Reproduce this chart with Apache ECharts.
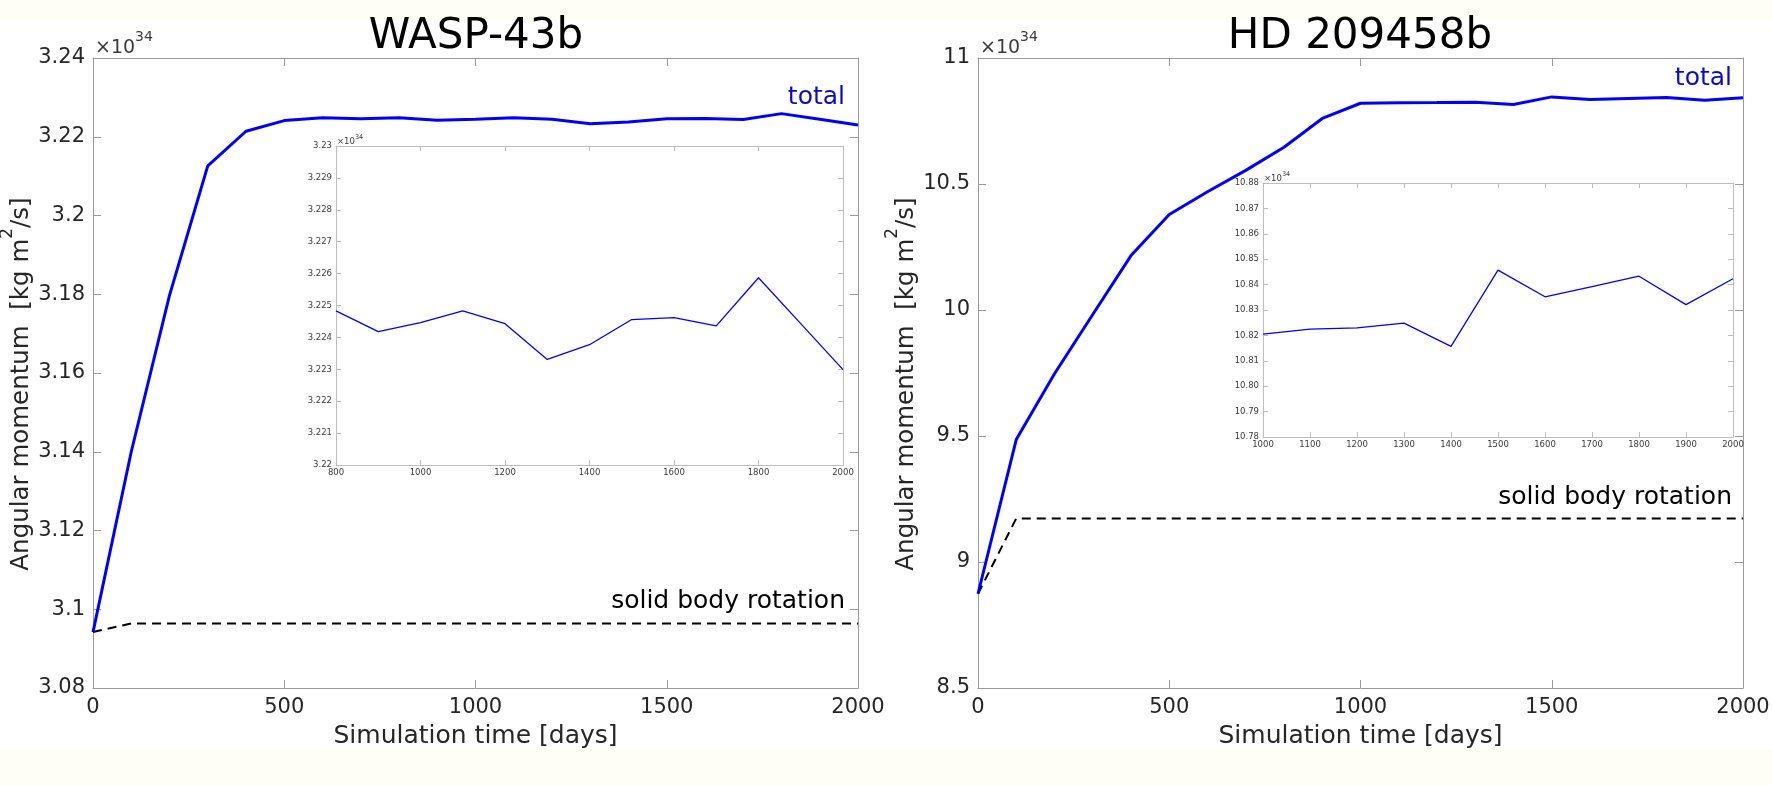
<!DOCTYPE html>
<html>
<head>
<meta charset="UTF-8">
<title>Angular momentum: WASP-43b / HD 209458b</title>
<script src="https://cdn.jsdelivr.net/npm/echarts@6/dist/echarts.min.js"></script>
<style>
  html, body { margin: 0; padding: 0; background: #fffef6; }
  #band { position: absolute; left: 0; top: 20px; width: 1772px; height: 730px; background: #fff; }
  #chart { position: absolute; left: 0; top: 0; width: 1772px; height: 785px; }
</style>
</head>
<body>
<div id="band"></div>
<div id="chart"></div>
<script>
// simulation time [days]
var days = [0, 100, 200, 300, 400, 500, 600, 700, 800, 900, 1000,
            1100, 1200, 1300, 1400, 1500, 1600, 1700, 1800, 1900, 2000];

// angular momentum, units of 1e34 kg m^2/s
var waspTotal = [3.0942, 3.1400, 3.1797, 3.2126, 3.2214, 3.2241, 3.2248, 3.2246, 3.22483, 3.22418, 3.22446,
                 3.22483, 3.22443, 3.22331, 3.22377, 3.22456, 3.22462, 3.22436, 3.22587, 3.22443, 3.22299];
var waspSolid = [3.0942, 3.0964, 3.0964, 3.0964, 3.0964, 3.0964, 3.0964, 3.0964, 3.0964, 3.0964, 3.0964,
                 3.0964, 3.0964, 3.0964, 3.0964, 3.0964, 3.0964, 3.0964, 3.0964, 3.0964, 3.0964];
var hdTotal = [8.874, 9.486, 9.747, 9.982, 10.216, 10.379, 10.469, 10.554, 10.646, 10.760, 10.8205,
               10.8225, 10.8230, 10.8248, 10.8157, 10.8457, 10.8352, 10.8392, 10.8433, 10.8321, 10.8423];
var hdSolid = [8.874, 9.173, 9.173, 9.173, 9.173, 9.173, 9.173, 9.173, 9.173, 9.173, 9.173,
               9.173, 9.173, 9.173, 9.173, 9.173, 9.173, 9.173, 9.173, 9.173, 9.173];

// axis ranges [min, max, step]
var mainX = [0, 2000, 500];
var waspY = [3.08, 3.24, 0.02];
var hdY = [8.5, 11, 0.5];
var waspInsetX = [800, 2000, 200];
var waspInsetY = [3.22, 3.23, 0.001];
var hdInsetX = [1000, 2000, 100];
var hdInsetY = [10.78, 10.88, 0.01];

var titles = ['WASP-43b', 'HD 209458b'];
var FONT = 'DejaVu Sans';

var chart = echarts.init(document.getElementById('chart'));

function pairs(xs, ys, from) {
    var out = [];
    for (var i = 0; i < xs.length; i++) {
        if (xs[i] >= from) out.push([xs[i], ys[i]]);
    }
    return out;
}

// main axes: dark labels, 8px ticks; inset: small labels, 5px ticks
var mainStyle = { line: '#9a9a9a', tick: 8, size: 21, color: '#262626', margin: 8 };
var insetStyle = { line: '#bdbdbd', tick: 5, size: 8.5, color: '#3a3a3a', margin: 4 };

function axis(grid, pos, range, st, showLabel, fmt, extra) {
    var a = {
        type: 'value', gridIndex: grid, position: pos,
        min: range[0], max: range[1], interval: range[2],
        axisLine: { show: true, onZero: false, lineStyle: { color: st.line, width: 1 } },
        axisTick: { show: true, inside: true, length: st.tick, lineStyle: { color: st.line } },
        axisLabel: {
            show: showLabel, fontFamily: FONT, fontSize: st.size, color: st.color,
            margin: st.margin, formatter: fmt
        },
        splitLine: { show: false }
    };
    if (extra) Object.assign(a, extra);
    return a;
}

var yName = '{n|Angular momentum  [kg m}{s|2}{n|/s]}';
var yNameStyle = {
    fontFamily: FONT, color: '#262626', padding: [0, 22, 0, 0],
    rich: {
        n: { fontFamily: FONT, fontSize: 24.5, color: '#262626', lineHeight: 35, verticalAlign: 'bottom' },
        s: { fontFamily: FONT, fontSize: 17, color: '#262626', verticalAlign: 'top' }
    }
};
var xNameOpts = {
    name: 'Simulation time [days]', nameLocation: 'middle', nameGap: 36,
    nameTextStyle: { fontFamily: FONT, fontSize: 25, color: '#262626' }
};
function yNameOpts() {
    return { name: yName, nameLocation: 'middle', nameGap: 51, nameTextStyle: yNameStyle };
}

var fWaspY = function (v) { return String(+v.toFixed(2)); };
var fHdY = function (v) { return String(+v.toFixed(1)); };
var fWaspIn = function (v) { return String(+v.toFixed(3)); };
var fHdIn = function (v) { return v.toFixed(2); };
var fX = function (v) { return String(Math.round(v)); };
var mainXLabel = { fontFamily: FONT, fontSize: 21, color: '#262626', margin: 9, formatter: fX };
var insetXLabel = { fontFamily: FONT, fontSize: 8.5, color: '#3a3a3a', margin: 3, formatter: fX };

var xAxes = [
    axis(0, 'bottom', mainX, mainStyle, true, fX, Object.assign({}, xNameOpts, { axisLabel: mainXLabel })),
    axis(0, 'top', mainX, mainStyle, false),
    axis(1, 'bottom', mainX, mainStyle, true, fX, Object.assign({}, xNameOpts, { axisLabel: mainXLabel })),
    axis(1, 'top', mainX, mainStyle, false),
    axis(2, 'bottom', waspInsetX, insetStyle, true, fX, { axisLabel: insetXLabel }),
    axis(2, 'top', waspInsetX, insetStyle, false),
    axis(3, 'bottom', hdInsetX, insetStyle, true, fX, { axisLabel: insetXLabel }),
    axis(3, 'top', hdInsetX, insetStyle, false)
];
var yAxes = [
    axis(0, 'left', waspY, mainStyle, true, fWaspY, yNameOpts()),
    axis(0, 'right', waspY, mainStyle, false),
    axis(1, 'left', hdY, mainStyle, true, fHdY, yNameOpts()),
    axis(1, 'right', hdY, mainStyle, false),
    axis(2, 'left', waspInsetY, insetStyle, true, fWaspIn),
    axis(2, 'right', waspInsetY, insetStyle, false),
    axis(3, 'left', hdInsetY, insetStyle, true, fHdIn),
    axis(3, 'right', hdInsetY, insetStyle, false)
];

function line(xi, yi, data, color, width, dashed) {
    return {
        type: 'line', xAxisIndex: xi, yAxisIndex: yi, data: data,
        symbol: 'none', silent: true, animation: false,
        lineStyle: { color: color, width: width, type: dashed ? [9, 6] : 'solid' },
        itemStyle: { color: color }
    };
}

function exponent(x, y, big, small) {
    return {
        type: 'text', x: x, y: y, silent: true,
        style: {
            text: '{a|×10}{b|34}', textAlign: 'left', textVerticalAlign: 'bottom',
            rich: {
                a: { fontFamily: FONT, fontSize: big, fill: '#3a3a3a', verticalAlign: 'bottom', lineHeight: big * 1.45 },
                b: { fontFamily: FONT, fontSize: small, fill: '#3a3a3a', verticalAlign: 'top' }
            }
        }
    };
}
function label(x, y, txt, size, color, align) {
    return {
        type: 'text', x: x, y: y, silent: true,
        style: { text: txt, fontFamily: FONT, fontSize: size, fill: color, textAlign: align, textVerticalAlign: 'middle' }
    };
}

chart.setOption({
    animation: false,
    backgroundColor: 'transparent',
    grid: [
        { left: 93, top: 58, width: 765, height: 630, outerBoundsMode: 'none' },
        { left: 978, top: 58, width: 765, height: 630, outerBoundsMode: 'none' },
        { left: 336, top: 146, width: 507, height: 319, show: true, backgroundColor: '#fff', borderWidth: 0, outerBoundsMode: 'none' },
        { left: 1263, top: 183, width: 470, height: 254, show: true, backgroundColor: '#fff', borderWidth: 0, outerBoundsMode: 'none' }
    ],
    xAxis: xAxes,
    yAxis: yAxes,
    series: [
        line(0, 0, pairs(days, waspSolid, 0), '#000', 2, true),
        line(0, 0, pairs(days, waspTotal, 0), '#0000ff', 3, false),
        line(2, 2, pairs(days, hdSolid, 0), '#000', 2, true),
        line(2, 2, pairs(days, hdTotal, 0), '#0000ff', 3, false),
        line(4, 4, pairs(days, waspTotal, waspInsetX[0]), '#0000ff', 1.3, false),
        line(6, 6, pairs(days, hdTotal, hdInsetX[0]), '#0000ff', 1.3, false)
    ],
    graphic: [
        label(476, 37, titles[0], 42, '#000', 'center'),
        label(1360, 37, titles[1], 42, '#000', 'center'),
        exponent(95, 58, 19, 14),
        exponent(980, 58, 19, 14),
        exponent(337, 146, 8.5, 6.5),
        exponent(1264, 183, 8.5, 6.5),
        label(845, 97, 'total', 25, '#0a0acc', 'right'),
        label(1732, 78, 'total', 25, '#0a0acc', 'right'),
        label(845, 601, 'solid body rotation', 25, '#000', 'right'),
        label(1732, 497, 'solid body rotation', 25, '#000', 'right')
    ]
});
</script>
</body>
</html>
